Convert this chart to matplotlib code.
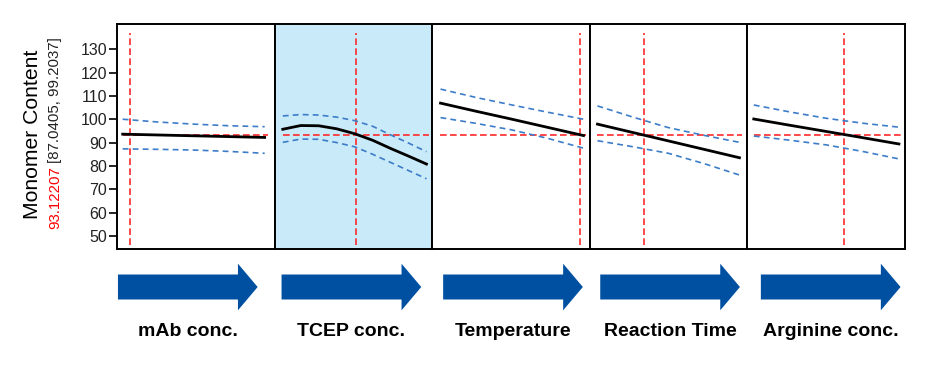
import numpy as np
import matplotlib
matplotlib.use("Agg")
import matplotlib.pyplot as plt
from matplotlib.patches import Polygon

# factor names and current settings (x scaled 0..1 across each panel)
factors = ["mAb conc.", "TCEP conc.", "Temperature", "Reaction Time", "Arginine conc."]
current_x = [0.05, 0.51, 0.975, 0.33, 0.625]
predicted = 93.12207
ci_low = 87.0405
ci_high = 99.2037

# profile traces
x5 = [0, 0.25, 0.5, 0.75, 1]
x9 = [0, 0.125, 0.25, 0.375, 0.5, 0.625, 0.75, 0.875, 1]
xs = [x5, x9, x5, x5, x5]
fit = [
    [93.6, 93.25, 92.9, 92.55, 92.2],
    [95.7, 97.3, 97.2, 95.9, 93.8, 91.0, 87.5, 84.2, 80.8],
    [106.9, 103.4, 100.0, 96.5, 93.0],
    [97.9, 94.3, 90.7, 87.1, 83.5],
    [100.1, 97.4, 94.75, 92.1, 89.4],
]
upper = [
    [100.0, 98.8, 97.9, 97.2, 96.8],
    [101.4, 102.0, 101.8, 100.9, 99.4, 97.0, 93.3, 89.8, 86.1],
    [112.9, 109.3, 106.1, 103.0, 100.0],
    [105.7, 100.9, 96.4, 93.1, 90.1],
    [106.1, 103.1, 100.4, 98.3, 96.6],
]
lower = [
    [87.3, 87.1, 86.8, 86.2, 85.4],
    [90.1, 91.5, 91.4, 90.0, 88.2, 85.0, 81.5, 78.0, 74.5],
    [100.7, 98.2, 95.4, 91.8, 87.6],
    [90.8, 88.2, 85.4, 81.0, 76.1],
    [92.8, 91.0, 89.0, 86.2, 83.0],
]
yticks = [50, 60, 70, 80, 90, 100, 110, 120, 130]

W, H = 936, 365
fig = plt.figure(figsize=(W / 100, H / 100), dpi=100)

# overlay in pixel units for the arrows and factor names
over = fig.add_axes([0, 0, 1, 1])
over.set_xlim(0, W)
over.set_ylim(H, 0)
over.axis("off")

left, right, top, bottom = 117, 905, 24, 249
pw = (right - left) / 5
xlims = [(-0.04, 1.07), (-0.057, 1.04), (-0.058, 1.044), (-0.054, 1.056), (-0.044, 1.042)]
arrow_shift = [-8, -2, 2, 1.5, 4.5]
red = "#ff2a2a"
blue = "#3c7cc8"
fam = ["Liberation Sans", "DejaVu Sans"]

for i in range(5):
    ax = fig.add_axes([(left + i * pw) / W, 1 - bottom / H, pw / W, (bottom - top) / H])
    ax.set_xlim(*xlims[i])
    ax.set_ylim(44.4, 140.8)
    if i == 1:
        ax.set_facecolor("#c8eaf9")
    ax.plot([0, 1.02], [predicted, predicted], color=red, lw=1.2, ls=(0, (4, 2)))
    ax.plot([current_x[i], current_x[i]], [46.1, 136.9], color=red, lw=1.2, ls=(0, (4, 2)))
    ax.plot(xs[i], upper[i], color=blue, lw=1.2, ls=(0, (3.5, 2.5)))
    ax.plot(xs[i], lower[i], color=blue, lw=1.2, ls=(0, (3.5, 2.5)))
    ax.plot(xs[i], fit[i], color="black", lw=2)
    for s in ax.spines.values():
        s.set_linewidth(1.4)
    ax.set_xticks([])
    if i == 0:
        ax.set_yticks(yticks)
        ax.tick_params(axis="y", length=6, width=1.2, pad=1, labelsize=11.5,
                       labelcolor="#222222")
        for lab in ax.get_yticklabels():
            lab.set_family(fam)
    else:
        ax.set_yticks([])

    # arrow below the panel
    cx = left + (i + 0.5) * pw + arrow_shift[i]
    L, sh, hh, hl, cy = 139.7, 12.5, 23.3, 19.7, 287
    x0 = cx - L / 2
    pts = [(x0, cy - sh), (x0 + L - hl, cy - sh), (x0 + L - hl, cy - hh), (x0 + L, cy),
           (x0 + L - hl, cy + hh), (x0 + L - hl, cy + sh), (x0, cy + sh)]
    over.add_patch(Polygon(pts, closed=True, facecolor="#0050a2", edgecolor="none"))
    over.text(cx, 332, factors[i], ha="center", va="center", fontsize=14,
              fontweight="bold", family=fam, color="black")

fig.text(33 / W, 1 - 134 / H, "Monomer Content", rotation=90, ha="center", va="center",
         fontsize=15.2, family=fam)
t1 = fig.text(55.5 / W, 1 - 229 / H, "93.12207", rotation=90, ha="center", va="bottom",
              fontsize=10.8, family=fam, color="red")
fig.canvas.draw()
bb = t1.get_window_extent()
fig.text(55.5 / W, (bb.y1 + 3) / H, "[%.4f, %.4f]" % (ci_low, ci_high), rotation=90,
         ha="center", va="bottom", fontsize=10.8, family=fam, color="#222222")

fig.savefig("out.png", dpi=100)
